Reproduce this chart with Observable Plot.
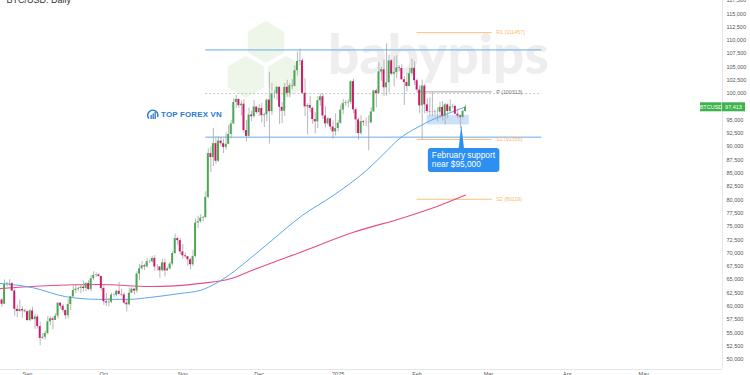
<!DOCTYPE html>
<html>
<head>
<meta charset="utf-8">
<script src="https://cdn.jsdelivr.net/npm/d3@7"></script>
<script src="https://cdn.jsdelivr.net/npm/@observablehq/plot@0.6"></script>
<style>
  html, body { margin: 0; padding: 0; background: #fff; }
  #wrap { position: relative; width: 750px; height: 375px; overflow: hidden; font-family: "Liberation Sans", Arial, sans-serif; }
  #wm, #chart, #logo { position: absolute; left: 0; top: 0; }
  #chart svg { background: transparent; }
  #logo { left: 147px; top: 108.5px; display: flex; align-items: center; gap: 2px; color: #2a7ad2; font: bold 7.9px "Liberation Sans", Arial, sans-serif; letter-spacing: 0.2px; }
</style>
</head>
<body>
<div id="wrap">
  <svg id="wm" width="750" height="375">
    <g fill="#eef6ea">
      <polygon id="hx" points="0,-21 18.2,-10.5 18.2,10.5 0,21 -18.2,10.5 -18.2,-10.5" transform="translate(266,42)"/>
      <use href="#hx" transform="translate(-20,35)"/>
      <use href="#hx" transform="translate(20,35)"/>
    </g>
    <text x="328" y="74" fill="#eeeeee" font-family="Lato, 'Liberation Sans', Arial, sans-serif" font-weight="900" font-size="55">babypips</text>
  </svg>
  <div id="chart"></div>
  <div id="logo">
    <svg width="12" height="12" viewBox="0 0 12 12">
      <path d="M2 9.5 A5 5 0 1 1 10.5 8" fill="none" stroke="#2a7ad2" stroke-width="1.4"/>
      <rect x="3.5" y="6" width="1.3" height="4" fill="#2a7ad2"/>
      <rect x="5.5" y="4.5" width="1.3" height="5.5" fill="#2a7ad2"/>
      <rect x="7.5" y="3" width="1.3" height="7" fill="#2a7ad2"/>
    </svg>
    <span>TOP FOREX VN</span>
  </div>
</div>
<script>
// BTC/USD daily candles, 21 Aug 2024 to 20 Feb 2025 (USD)
const firstDay = "2024-08-21";
const opens = [
  59020,61170,60380,64090,64180,64250,62850,59420,59010,59380,59120,
  58970,57300,59120,57480,57970,56160,53950,54160,54870,57050,57640,57340,58130,60570,60000,59190,58210,60310,61760,62950,63200,63350,63580,63340,64260,63140,65180,65790,65890,65600,
  63330,60840,60630,60750,62090,62060,62820,62220,62130,60580,60270,62450,63200,62850,66050,67040,67610,67400,68380,68360,69000,67370,67380,66680,68160,66640,67020,67930,69910,72720,72340,
  70220,69480,69310,68740,67800,69360,75640,75900,76550,76690,80470,88700,87960,90580,87270,91060,90560,89860,90460,92310,94290,98320,98900,97720,98000,93030,91950,95950,95650,97460,
  96410,97200,95840,96000,98770,96590,99920,99920,101170,97400,96680,101170,100040,101460,101370,104300,106030,106140,100040,97490,97760,97220,95100,94690,98630,99400,95790,94300,95240,93710,92790,
  93430,94420,96890,98110,98240,98360,102240,96950,95040,92480,94720,94540,94520,94490,96540,100500,99990,104080,104460,101090,102020,106150,103650,103960,104820,104710,102590,102080,101330,103730,104740,
  102410,100650,97690,101400,97870,96620,96550,96530,96480,96500,97400,95750,97870,96620,97510,97580,96120,95770,95540,96640
];
const highs = [
  61820,61420,64950,64500,65000,64480,63230,60230,61170,59900,59430,
  59050,59400,59810,58500,58310,56990,54850,55300,58100,58040,57990,58590,60650,60660,60380,59210,61320,61790,63850,64130,63560,64000,64740,64480,64800,65790,66480,66240,66070,65620,
  64120,62400,61470,62450,62360,62980,64480,63190,62520,61300,63400,63450,63280,66480,67900,68400,67920,68970,68690,69400,69500,67830,67470,68830,68760,67310,68300,70240,73600,72960,72700,
  71600,69950,69380,69000,70530,76400,76950,77200,76900,81500,89600,89950,93480,91800,91850,91780,91450,92620,94000,94900,99000,99670,98930,98650,98870,94960,97300,96650,98700,97500,
  97900,98150,96300,99000,104000,101900,100550,101350,101200,98300,101900,102500,101900,102650,105200,107800,108350,106500,102800,98100,99500,97400,96400,99400,99950,99950,97500,95500,95200,94900,96150,
  94950,97800,98900,98700,98800,102400,102700,97300,95350,95800,94950,95400,95850,97350,100650,100800,105800,104900,106300,109350,107200,106400,106850,107100,105250,105450,103200,103800,104750,106450,106000,
  102750,101450,102500,101750,99000,99200,100140,96900,97300,98350,98500,98100,98050,98800,97950,97700,97050,96000,96900,97800
];
const lows = [
  58790,59800,60350,63580,63800,62800,58120,57860,58790,57750,58740,
  57240,57120,57420,55600,55700,52550,53750,53650,54600,56400,55560,57330,57650,59470,58700,57500,57630,59200,61580,62370,62760,62370,62690,62710,62950,62700,64850,65430,65420,62860,
  60170,59970,59860,60470,61680,61850,62150,61860,60300,58900,60070,62420,62080,62450,64800,66800,66700,67170,68030,68100,66600,66570,65260,66470,65520,66580,66810,67560,69730,71440,69680,
  68800,69040,67460,66840,67450,69100,74600,75600,75820,76490,80250,85150,86250,86700,87100,90060,88720,89400,90380,91500,94130,97200,97200,95770,92600,90900,91800,94700,95370,96100,
  95700,94500,93600,94700,90500,95900,99000,98700,94200,94300,95700,99300,99200,100700,101250,103300,105300,99900,95700,92200,96400,94200,92400,93400,97600,95100,93500,94000,93100,91400,92000,
  92800,94200,96000,97600,97300,97900,96200,92500,91200,92200,93800,93700,89250,94300,96500,97300,99950,102300,99500,99550,100100,103350,101250,102750,104100,102500,97750,100300,101300,103300,101550,
  100300,96200,91230,96150,96200,95700,95650,95750,94700,95300,94850,94100,95250,96350,97200,96050,95250,93400,95250,96500
];
const closes = [
  61170,60380,64090,64180,64250,62850,59420,59010,59380,59120,58970,
  57300,59120,57480,57970,56160,53950,54160,54870,57050,57640,57340,58130,60570,60000,59190,58210,60310,61760,62950,63200,63350,63580,63340,64260,63140,65180,65790,65890,65600,63330,
  60840,60630,60750,62090,62060,62820,62220,62130,60580,60270,62450,63200,62850,66050,67040,67610,67400,68380,68360,69000,67370,67380,66680,68160,66640,67020,67930,69910,72720,72340,70220,
  69480,69310,68740,67800,69360,75640,75900,76550,76690,80470,88700,87960,90580,87270,91060,90560,89860,90460,92310,94290,98320,98900,97720,98000,93030,91950,95950,95650,97460,96410,
  97200,95840,96000,98770,96590,99920,99920,101170,97400,96680,101170,100040,101460,101370,104300,106030,106140,100040,97490,97760,97220,95100,94690,98630,99400,95790,94300,95240,93710,92790,93430,
  94420,96890,98110,98240,98360,102240,96950,95040,92480,94720,94540,94520,94490,96540,100500,99990,104080,104460,101090,102020,106150,103650,103960,104820,104710,102590,102080,101330,103730,104740,102410,
  100650,97690,101400,97870,96620,96550,96530,96480,96500,97400,95750,97870,96620,97510,97580,96120,95770,95540,96640,97413
];

// 100-day and 200-day simple moving averages
const sma100Dates  = ["2024-08-21","2024-09-03","2024-09-16","2024-09-29","2024-10-11","2024-10-19","2024-10-31","2024-11-08","2024-11-14","2024-11-21","2024-11-28","2024-12-06","2024-12-18","2024-12-30","2025-01-12","2025-01-19","2025-01-25","2025-02-01","2025-02-08","2025-02-14","2025-02-20"];
const sma100Values = [64300,63500,61800,61300,61300,61650,62400,63000,64300,66500,69200,72400,77100,80800,85500,88700,91500,93600,95300,96400,97500];
const sma200Dates  = ["2024-08-21","2024-09-10","2024-09-29","2024-10-19","2024-11-08","2024-11-20","2024-11-28","2024-12-18","2025-01-07","2025-01-27","2025-02-08","2025-02-20"];
const sma200Values = [63300,63900,64100,63700,64300,65200,66700,70300,73900,76700,78600,80900];

// Monthly pivot levels for February
const pivotNames  = ["R1", "P", "S1", "S2"];
const pivotValues = [111457, 100313, 91356, 80119];
const pivotStart = "2025-02-01", pivotEnd = "2025-03-02T12:00";

// Range levels
const rangeLevels = [108200, 91800];
const roundLevel = 100000;
const levelStart = "2024-11-10", levelEnd = "2025-03-22";

// February support zone and its callout
const zoneDates  = ["2025-02-05", "2025-02-21T12:00"];
const zonePrices = [94100, 95900];
const calloutText = "February support\nnear $95,000";
const calloutDates  = ["2025-02-05T10:00", "2025-03-05T12:00"];
const calloutPrices = [89660, 85150];
const calloutTip = {date: "2025-02-18T10:00", price: 93760};

// Axes
const yTicks = [50000,52500,55000,57500,60000,62500,65000,67500,70000,72500,75000,77500,80000,82500,85000,87500,90000,92500,95000,97500,100000,102500,105000,107500,110000,112500,115000,117500];
const monthTicks  = ["2024-09-01","2024-10-01","2024-11-01","2024-12-01","2025-01-01","2025-02-01","2025-03-01","2025-04-01","2025-05-01"];
const monthLabels = ["Sep","Oct","Nov","Dec","2025","Feb","Mar","Apr","May"];
const title = "BTC/USD: Daily";
const symbolTag = "BTCUSD";

const T = s => new Date(s.length <= 10 ? s + "T00:00Z" : s + "Z");
const day0 = T(firstDay);
const candles = closes.map((c, i) => ({
  date: d3.utcDay.offset(day0, i), open: opens[i], high: highs[i], low: lows[i], close: c
}));
const isUp = d => d.close >= d.open;
const half = 9 * 3600e3;
const sma100 = sma100Dates.map((d, i) => ({date: T(d), value: sma100Values[i]}));
const sma200 = sma200Dates.map((d, i) => ({date: T(d), value: sma200Values[i]}));
const pivots = pivotNames.map((n, i) => ({name: n, value: pivotValues[i]}));
const monthLabelOf = new Map(monthTicks.map((d, i) => [+T(d), monthLabels[i]]));
const last = candles[candles.length - 1];
const fmt = d3.format(",");
const xEnd = T("2025-05-31T22:00");

const UP = "#4aa84e", DOWN = "#d2176a", WICK = "#a3a6ad";
const ORANGE = "#f9b970", LEVEL = "#6aa9e6", CALLOUT = "#2d8ff0", TAG = "#3cb44b";

// price tag on the right axis: symbol and last close
function priceTag(index, scales) {
  const y = scales.y(last.close);
  const xr = scales.x(xEnd);
  const g = d3.create("svg:g").attr("font-size", 5.5).attr("fill", "#fff").attr("text-anchor", "middle");
  g.append("rect").attr("x", xr - 22).attr("y", y - 4.5).attr("width", 21.5).attr("height", 9).attr("fill", TAG);
  g.append("rect").attr("x", xr).attr("y", y - 4.5).attr("width", 23).attr("height", 9).attr("fill", TAG);
  g.append("text").attr("x", xr - 11).attr("y", y + 2).text(symbolTag);
  g.append("text").attr("x", xr + 11.5).attr("y", y + 2).text(fmt(last.close));
  return g.node();
}

const chart = Plot.plot({
  width: 750,
  height: 375,
  marginTop: 0,
  marginLeft: 0,
  marginRight: 28,
  marginBottom: 6,
  style: {fontFamily: "'Liberation Sans', Arial, sans-serif", background: "transparent", overflow: "visible"},
  x: {type: "utc", domain: [T("2024-08-21T10:00"), xEnd], axis: null},
  y: {domain: [48100, 117500], axis: null},
  marks: [
    // frame lines
    Plot.ruleY([48100], {stroke: "#e6e7ea"}),
    Plot.ruleX([xEnd], {stroke: "#e6e7ea"}),
    Plot.axisY(yTicks, {anchor: "right", tickSize: 0, tickPadding: 4, fontSize: 5.5, fill: "#555", tickFormat: fmt}),
    Plot.axisX(monthTicks.map(T), {anchor: "bottom", tickSize: 0, tickPadding: 2.5, fontSize: 5.5, fill: "#555", tickFormat: d => monthLabelOf.get(+d)}),
    Plot.text([title], {text: d => d, frameAnchor: "top-left", dx: 6, dy: 2.8, lineAnchor: "bottom", textAnchor: "start", fontSize: 9, fill: "#333"}),

    // horizontal levels
    Plot.ruleY([roundLevel], {x1: T(levelStart), x2: T(levelEnd), stroke: "#b5b5b5", strokeDasharray: "2,2", strokeWidth: 0.8}),
    Plot.ruleY(rangeLevels, {x1: T(levelStart), x2: T(levelEnd), stroke: LEVEL, strokeWidth: 1}),

    // pivots
    Plot.ruleY(pivots, {y: "value", x1: T(pivotStart), x2: T(pivotEnd), stroke: d => d.name === "P" ? "#9a9a9a" : ORANGE, strokeWidth: 0.9}),
    Plot.text(pivots, {y: "value", x: T(pivotEnd), dx: 4, text: d => `${d.name} (${d.value})`, textAnchor: "start", fontSize: 5.3, fill: d => d.name === "P" ? "#777" : ORANGE}),

    // support zone
    Plot.rect([0], {x1: T(zoneDates[0]), x2: T(zoneDates[1]), y1: zonePrices[0], y2: zonePrices[1], fill: "#c4def7", fillOpacity: 0.9}),

    // moving averages
    Plot.line(sma200, {x: "date", y: "value", stroke: "#ea4a8c", strokeWidth: 1.1, curve: "monotone-x", clip: true}),
    Plot.line(sma100, {x: "date", y: "value", stroke: "#5aa7f0", strokeWidth: 1, curve: "monotone-x", clip: true}),

    // candles
    Plot.ruleX(candles, {x: "date", y1: "low", y2: "high", stroke: WICK, strokeWidth: 0.8, clip: true}),
    Plot.rect(candles, {x1: d => new Date(+d.date - half), x2: d => new Date(+d.date + half), y1: "open", y2: "close", fill: d => isUp(d) ? UP : DOWN, clip: true}),

    // callout
    Plot.line([[calloutTip.date, calloutTip.price], ["2025-02-17T10:00", calloutPrices[0]], ["2025-02-19T10:00", calloutPrices[0]]], {x: d => T(d[0]), y: d => d[1], fill: CALLOUT, stroke: CALLOUT, strokeWidth: 0.6}),
    Plot.rect([0], {x1: T(calloutDates[0]), x2: T(calloutDates[1]), y1: calloutPrices[0], y2: calloutPrices[1], fill: CALLOUT, rx: 3}),
    Plot.text([calloutText], {text: d => d, x: T(calloutDates[0]), y: calloutPrices[0], dx: 3.5, dy: 3, lineAnchor: "top", textAnchor: "start", fontSize: 8.3, lineHeight: 1.12, fill: "#fff"}),

    priceTag
  ]
});
document.getElementById("chart").appendChild(chart);
</script>
</body>
</html>
